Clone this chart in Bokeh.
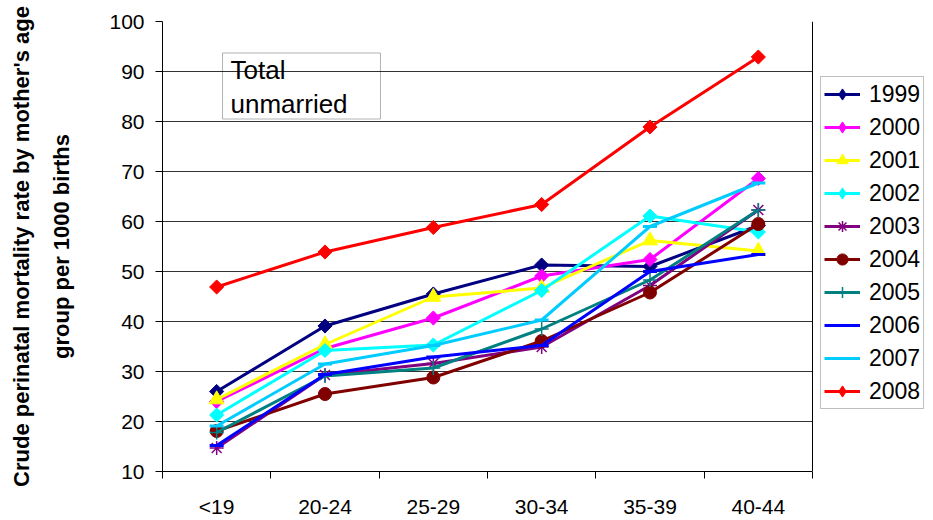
import math

from bokeh.embed import file_html
from bokeh.models import BoxAnnotation, FixedTicker, Label, Legend, LegendItem, Range1d, Span
from bokeh.plotting import figure
from bokeh.resources import INLINE

# Mother's age groups (x axis categories)
age_groups = ["<19", "20-24", "25-29", "30-34", "35-39", "40-44"]

# Crude perinatal mortality per 1000 births, unmarried mothers, by year
years = ["1999", "2000", "2001", "2002", "2003", "2004", "2005", "2006", "2007", "2008"]
rate_1999 = [26.0, 39.1, 45.5, 51.3, 51.0, 59.2]
rate_2000 = [24.0, 34.6, 40.7, 49.1, 52.4, 68.6]
rate_2001 = [24.4, 35.4, 44.9, 46.7, 56.2, 54.1]
rate_2002 = [21.3, 34.2, 35.3, 46.2, 61.1, 57.9]
rate_2003 = [14.7, 29.3, 31.6, 34.9, 47.2, 62.3]
rate_2004 = [18.1, 25.5, 28.8, 36.1, 45.8, 59.5]
rate_2005 = [17.8, 29.1, 30.7, 38.5, 48.3, 62.3]
rate_2006 = [15.2, 29.4, 32.9, 35.2, 50.0, 53.4]
rate_2007 = [19.1, 31.5, 35.2, 40.3, 59.0, 67.7]
rate_2008 = [46.9, 53.9, 58.8, 63.4, 78.9, 92.9]

y_ticks = [10, 20, 30, 40, 50, 60, 70, 80, 90, 100]

series = [rate_1999, rate_2000, rate_2001, rate_2002, rate_2003,
          rate_2004, rate_2005, rate_2006, rate_2007, rate_2008]

# Line colour, marker type, marker size for each year
styles = [
    ("#000080", "square", 10),
    ("#FF00FF", "square", 10),
    ("#FFFF00", "triangle", 15),
    ("#00FFFF", "square", 10),
    ("#800080", "asterisk", 14),
    ("#800000", "circle", 13),
    ("#008080", "cross", 14),
    ("#0000FF", "dash", 14),
    ("#00CCFF", "dash", 14),
    ("#FF0000", "square", 10),
]

FONT = "Liberation Sans"
W, H = 933, 520
LEFT, TOP, BOTTOM = 162, 21, 42
PLOT_W = 650            # width of the gridded data area
LEGEND_GAP = 8          # gap between data area and legend box

n = len(age_groups)
centers = [i + 0.5 for i in range(n)]
bounds = list(range(n + 1))

# The frame runs to the right edge; the legend sits in the strip right of the data area
x_end = n * (W - LEFT) / PLOT_W

p = figure(
    width=W, height=H,
    x_range=Range1d(0, x_end), y_range=Range1d(10, 100),
    output_backend="svg", toolbar_location=None, title=None,
    min_border_left=LEFT, min_border_right=0,
    min_border_top=TOP, min_border_bottom=BOTTOM,
)
p.background_fill_color = "white"
p.border_fill_color = "white"
p.outline_line_color = None

# x axis: labels at centres, tick marks between groups
p.xaxis.bounds = (0, n)
p.xaxis.ticker = FixedTicker(ticks=centers, minor_ticks=bounds)
p.xaxis.major_label_overrides = {c: g for c, g in zip(centers, age_groups)}
p.xaxis.major_tick_out = 0
p.xaxis.major_tick_in = 0
p.xaxis.minor_tick_out = 7
p.xaxis.minor_tick_in = 0
p.xaxis.minor_tick_line_color = "black"
p.xaxis.axis_line_color = "black"
p.xaxis.major_label_standoff = 16
p.xaxis.major_label_text_font = FONT
p.xaxis.major_label_text_font_size = "21px"
p.xaxis.major_label_text_color = "black"

# y axis with a two-line bold title
p.yaxis.ticker = FixedTicker(ticks=y_ticks)
p.yaxis.major_tick_out = 7
p.yaxis.major_tick_in = 0
p.yaxis.minor_tick_out = 0
p.yaxis.minor_tick_in = 0
p.yaxis.major_tick_line_color = "black"
p.yaxis.axis_line_color = "black"
p.yaxis.major_label_standoff = 11
p.yaxis.major_label_text_font = FONT
p.yaxis.major_label_text_font_size = "21px"
p.yaxis.major_label_text_color = "black"
p.yaxis.axis_label = "Crude perinatal mortality rate by mother's age\ngroup per 1000 births"
p.yaxis.axis_label_text_font = FONT
p.yaxis.axis_label_text_font_size = "22px"
p.yaxis.axis_label_text_font_style = "bold"
p.yaxis.axis_label_text_color = "black"
p.yaxis.axis_label_text_line_height = 1.6
p.yaxis.axis_label_standoff = 32

p.xgrid.visible = False
p.ygrid.grid_line_color = "#333333"
p.ygrid.grid_line_width = 1

# Blank strip right of the data area (hides grid lines there) and the plot's right edge
p.add_layout(BoxAnnotation(left=n, fill_color="white", fill_alpha=1, line_color=None))
p.add_layout(Span(location=n, dimension="height", line_color="black", line_width=1))

items = []
for year, values, (color, marker, size) in zip(years, series, styles):
    line = p.line(centers, values, line_color=color, line_width=3)
    kwargs = dict(marker=marker, size=size, line_color=color)
    if marker == "square":
        kwargs.update(angle=math.pi / 4, fill_color=color, line_width=1)
    elif marker in ("triangle", "circle"):
        kwargs.update(fill_color=color, line_width=1)
    elif marker == "dash":
        kwargs.update(line_width=3)
    else:
        kwargs.update(line_width=1.5)
    pts = p.scatter(centers, values, **kwargs)
    swatch = pts
    if marker == "square":
        # legend swatch keeps the diamond shape (legend glyphs ignore angle)
        swatch = p.scatter(centers, values, marker="diamond", size=size,
                           fill_color=color, line_color=color, visible=False)
    items.append(LegendItem(label=year, renderers=[line, swatch]))

legend = Legend(
    items=items, location=(PLOT_W + LEGEND_GAP, 62),
    label_text_font=FONT, label_text_font_size="23px", label_text_color="black",
    glyph_width=36, glyph_height=28, label_height=28, label_standoff=9,
    spacing=5, padding=3, margin=0,
    border_line_color="#808080", border_line_width=1,
    background_fill_color="white", background_fill_alpha=1,
    inactive_fill_alpha=0,
)
p.add_layout(legend)

# Boxed caption inside the plot area
p.add_layout(BoxAnnotation(left=0.554, right=2.012, top=93.7, bottom=80.5,
                           fill_color=None, line_color="black", line_width=1))
p.add_layout(Label(x=0.628, y=93.3, text="Total\nunmarried",
                   text_font=FONT, text_font_size="26px", text_color="black",
                   text_line_height=1.12,
                   text_align="left", text_baseline="top"))

open("out.html", "w").write(file_html(p, INLINE))
